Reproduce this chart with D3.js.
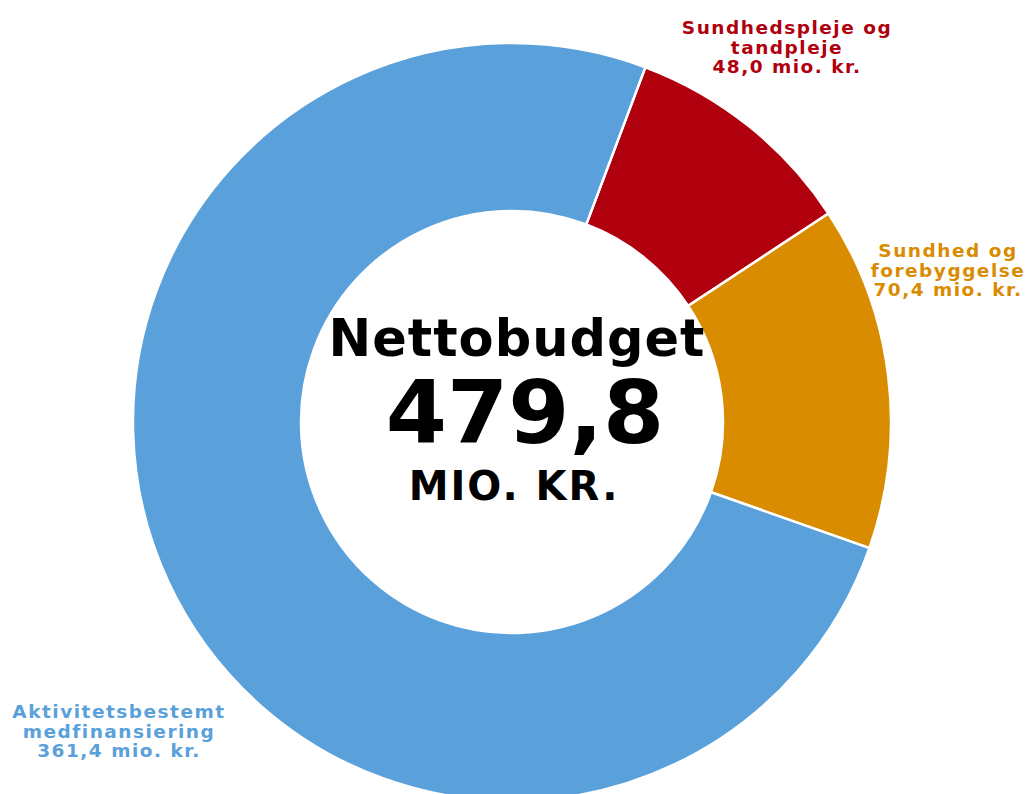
<!DOCTYPE html>
<html>
<head>
<meta charset="utf-8">
<script src="https://cdn.jsdelivr.net/npm/d3@7"></script>
<style>
  body { margin: 0; background: #fff; }
  svg text { font-family: "DejaVu Sans", Verdana, sans-serif; font-weight: bold; }
</style>
</head>
<body>
<svg id="chart" width="1028" height="794"></svg>
<script>
const categories = ["Sundhedspleje og tandpleje", "Sundhed og forebyggelse", "Aktivitetsbestemt medfinansiering"];
const values = [48.0, 70.4, 361.4];
const colors = ["#B0000E", "#D98C00", "#5AA0DA"];
const labelLines = [
    ["Sundhedspleje og", "tandpleje", "48,0 mio. kr."],
    ["Sundhed og", "forebyggelse", "70,4 mio. kr."],
    ["Aktivitetsbestemt", "medfinansiering", "361,4 mio. kr."]
];
const labelPos = [[787, 34], [948, 257], [119, 718]];
const centerLines = ["Nettobudget", "479,8", "MIO. KR."];

const svg = d3.select("#chart");
const cx = 512, cy = 422;
const outerR = 379, innerR = 211;

const start = 20.6 * Math.PI / 180;
const pie = d3.pie().sort(null).startAngle(start).endAngle(start + 2 * Math.PI);
const arc = d3.arc().innerRadius(innerR).outerRadius(outerR);

const g = svg.append("g").attr("transform", `translate(${cx},${cy})`);

g.selectAll("path")
    .data(pie(values))
    .enter().append("path")
    .attr("d", arc)
    .attr("fill", (d, i) => colors[i])
    .attr("stroke", "#fff")
    .attr("stroke-width", 2.5);

// slice labels
labelLines.forEach((lines, i) => {
    const t = svg.append("text")
        .attr("text-anchor", "middle")
        .attr("fill", colors[i])
        .attr("font-size", 18.5)
        .attr("letter-spacing", 1.5);
    lines.forEach((line, j) => {
        t.append("tspan")
            .attr("x", labelPos[i][0])
            .attr("y", labelPos[i][1] + j * 19.5)
            .text(line);
    });
});

// center text
svg.append("text").attr("x", cx + 5).attr("y", 356)
    .attr("text-anchor", "middle").attr("font-size", 51).attr("letter-spacing", 1)
    .text(centerLines[0]);
svg.append("text").attr("x", cx + 13).attr("y", 443)
    .attr("text-anchor", "middle").attr("font-size", 88).text(centerLines[1]);
svg.append("text").attr("x", cx + 2).attr("y", 500)
    .attr("text-anchor", "middle").attr("font-size", 40).attr("letter-spacing", 2)
    .text(centerLines[2]);
</script>
</body>
</html>
